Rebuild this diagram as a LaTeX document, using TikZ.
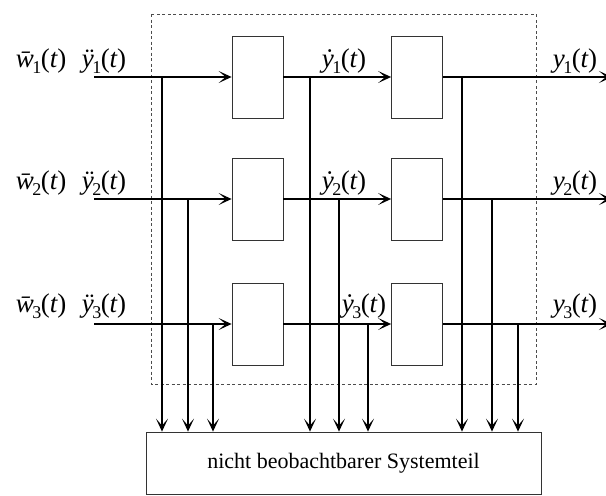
\documentclass[tikz,border=0pt]{standalone}
\usepackage{fontspec}
\setmainfont{Liberation Serif}
\usetikzlibrary{arrows.meta}
\newcommand{\sgl}[2]{{\itshape #1}\kern-1.5pt\raisebox{-0.25em}{\fontsize{18}{18}\selectfont\upshape #2}\kern-0.5pt{\upshape(}{\itshape t}{\upshape)}}
\begin{document}
\begin{tikzpicture}[x=1pt,y=-1pt,
  sigline/.style={line width=1.3pt},
  blk/.style={draw=black!80, line width=0.8pt, minimum width=51pt, minimum height=82pt, inner sep=0pt},
  lbl/.style={anchor=base, inner sep=0pt, font=\fontsize{27}{30}\selectfont},
  tipa/.style={-{Stealth[length=13pt,width=12pt,inset=7pt]}},
  sysbox/.style={draw=black!80, line width=0.8pt, minimum width=395pt, minimum height=62pt, inner sep=0pt, font=\fontsize{22}{26}\selectfont},
  obs/.style={draw=black!70, line width=0.6pt, dash pattern=on 3pt off 2.5pt}]
\useasboundingbox (0,0) rectangle (606,496);
% observable part frame
\draw[obs] (151,14) rectangle (536,384);
% blocks
\node[blk] (b11) at (257.5,77) {};
\node[blk] (b12) at (417,77) {};
\node[blk] (b21) at (257.5,199) {};
\node[blk] (b22) at (417,199) {};
\node[blk] (b31) at (257.5,324) {};
\node[blk] (b32) at (417,324) {};
% bottom box
\node[sysbox] (sys) at (343.5,463) {nicht beobachtbarer Systemteil};
% inputs / outputs
\coordinate (in1) at (94,77);  \coordinate (out1) at (612,77);
\coordinate (in2) at (94,199); \coordinate (out2) at (612,199);
\coordinate (in3) at (94,324); \coordinate (out3) at (612,324);
% horizontal signal lines
\foreach \r in {1,2,3}{
  \draw[sigline,tipa] (in\r) -- (b\r1.west);
  \draw[sigline,tipa] (b\r1.east) -- (b\r2.west);
  \draw[sigline,tipa] (b\r2.east) -- (out\r);
}
% taps
\coordinate (t11) at (162,77);  \coordinate (t21) at (188,199); \coordinate (t31) at (213,324);
\coordinate (t12) at (310,77);  \coordinate (t22) at (339,199); \coordinate (t32) at (368,324);
\coordinate (t13) at (462,77);  \coordinate (t23) at (492,199); \coordinate (t33) at (518,324);
\foreach \r in {1,2,3}{
  \foreach \c in {1,2,3}{
    \draw[sigline,tipa] (t\r\c) -- (t\r\c |- sys.north);
  }
}
% labels
\node[lbl] (w1) at (41,67)  {\sgl{\={w}}{1}};
\node[lbl] (a1) at (104,67) {\sgl{\"{y}}{1}};
\node[lbl] (v1) at (344,67) {\sgl{\.{y}}{1}};
\node[lbl] (y1) at (575,67) {\sgl{y}{1}};
\node[lbl] (w2) at (41,189)  {\sgl{\={w}}{2}};
\node[lbl] (a2) at (104,189) {\sgl{\"{y}}{2}};
\node[lbl] (v2) at (344,189) {\sgl{\.{y}}{2}};
\node[lbl] (y2) at (575,189) {\sgl{y}{2}};
\node[lbl] (w3) at (41,312)  {\sgl{\={w}}{3}};
\node[lbl] (a3) at (104,312) {\sgl{\"{y}}{3}};
\node[lbl] (v3) at (364,312) {\sgl{\.{y}}{3}};
\node[lbl] (y3) at (575,312) {\sgl{y}{3}};
\end{tikzpicture}
\end{document}
